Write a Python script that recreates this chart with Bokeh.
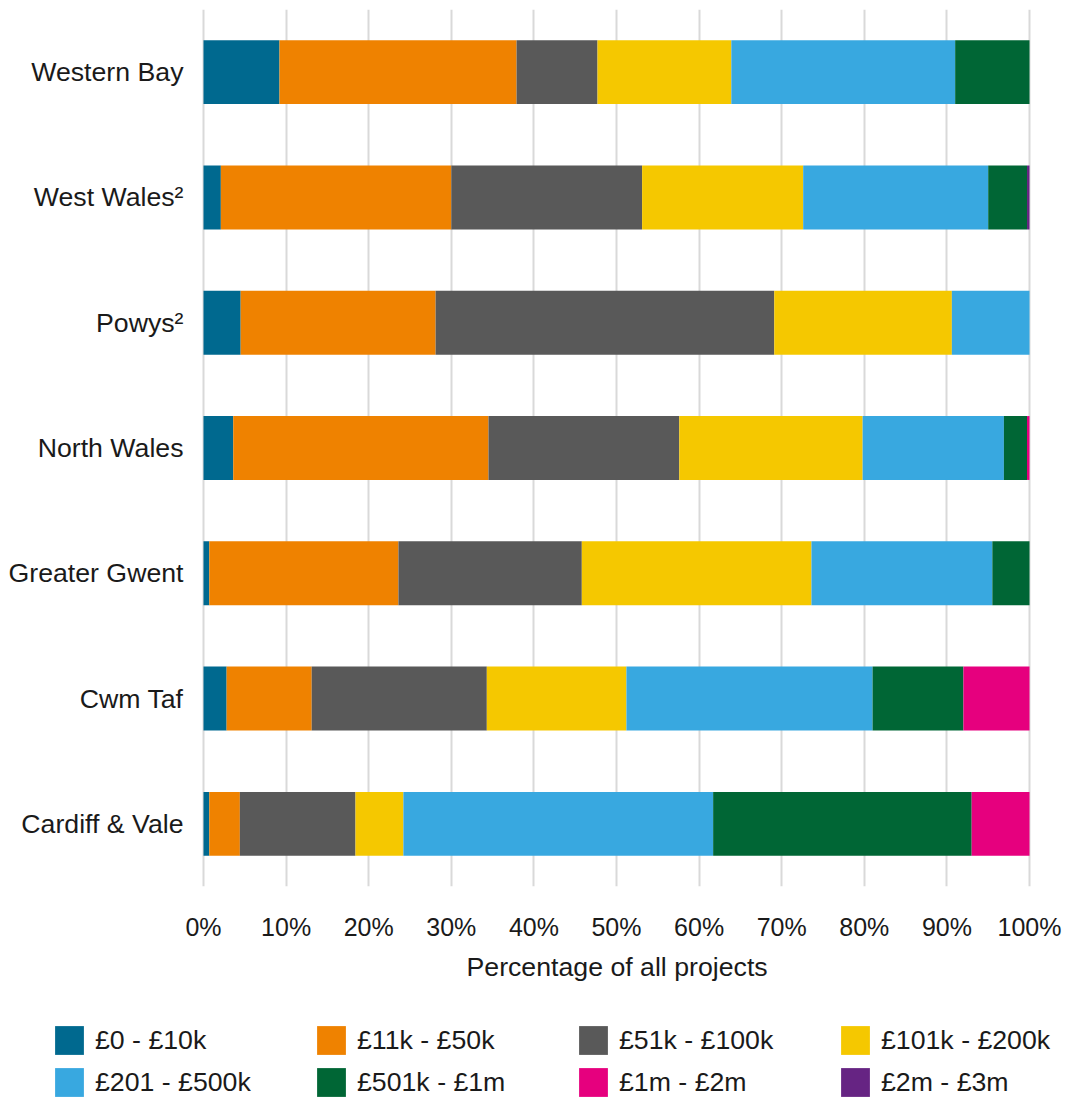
from bokeh.plotting import figure
from bokeh.models import (ColumnDataSource, FactorRange, Range1d, FixedTicker,
                          PrintfTickFormatter, Legend, LegendItem, Title)
from bokeh.core.properties import value
from bokeh.layouts import column
from bokeh.embed import file_html
from bokeh.resources import INLINE

# ---- data ----
regions = ["Western Bay", "West Wales²", "Powys²", "North Wales",
           "Greater Gwent", "Cwm Taf", "Cardiff & Vale"]
bands = ["£0 - £10k", "£11k - £50k", "£51k - £100k", "£101k - £200k",
         "£201 - £500k", "£501k - £1m", "£1m - £2m", "£2m - £3m"]
colors = ["#00698f", "#ef8200", "#595959", "#f5c800",
          "#38a8e0", "#006635", "#e6007e", "#662483"]

band_0_10k    = [9.2, 2.1, 4.5, 3.6, 0.7, 2.8, 0.7]
band_11_50k   = [28.7, 27.9, 23.6, 30.9, 22.9, 10.3, 3.7]
band_51_100k  = [9.8, 23.1, 41.0, 23.1, 22.2, 21.2, 14.0]
band_101_200k = [16.2, 19.5, 21.5, 22.2, 27.8, 16.9, 5.8]
band_201_500k = [27.1, 22.4, 9.4, 17.1, 21.9, 29.8, 37.5]
band_501k_1m  = [9.0, 4.7, 0.0, 2.8, 4.5, 11.0, 31.3]
band_1m_2m    = [0.0, 0.0, 0.0, 0.3, 0.0, 8.0, 7.0]
band_2m_3m    = [0.0, 0.3, 0.0, 0.0, 0.0, 0.0, 0.0]

x_ticks = [0, 10, 20, 30, 40, 50, 60, 70, 80, 90, 100]
x_title = "Percentage of all projects"

series = [band_0_10k, band_11_50k, band_51_100k, band_101_200k,
          band_201_500k, band_501k_1m, band_1m_2m, band_2m_3m]

data = {"region": regions}
for b, s in zip(bands, series):
    data[b] = s
source = ColumnDataSource(data)

FONT = "Liberation Sans"
TXT = "#1a1a1a"

# layout: page width, where 0% and 100% should fall (pixels)
W = 1062
X0_PX, X100_PX = 203, 1029
ppu = (X100_PX - X0_PX) / 100.0
x_start = -X0_PX / ppu
x_end = 100 + (W - X100_PX) / ppu

p = figure(width=W, height=1010,
           y_range=FactorRange(factors=list(reversed(regions))),
           x_range=Range1d(x_start, x_end),
           y_axis_location=None,
           toolbar_location=None, output_backend="svg",
           min_border_left=0, min_border_right=0,
           min_border_top=9, min_border_bottom=124)
p.outline_line_color = None

p.hbar_stack(bands, y="region", height=0.51, source=source,
             color=colors, line_color=None)

# category labels (left of the 0% line)
p.text(x=0, y="region", text="region", source=source,
       x_offset=-20, text_align="right", text_baseline="middle",
       text_font=value(FONT), text_font_size="26.7px", text_color=TXT)

# x axis
p.xaxis.ticker = FixedTicker(ticks=x_ticks)
p.xaxis.formatter = PrintfTickFormatter(format="%d%%")
p.xaxis.major_label_text_font = FONT
p.xaxis.major_label_text_font_size = "25px"
p.xaxis.major_label_text_color = TXT
p.xaxis.major_label_standoff = 26
p.xaxis.major_tick_out = 0
p.xaxis.major_tick_in = 0
p.xaxis.axis_line_color = None
p.xaxis.major_tick_line_color = None
p.xaxis.minor_tick_line_color = None

p.add_layout(Title(text=x_title, align="left", offset=466,
                   text_font=FONT, text_font_size="26.7px",
                   text_font_style="normal", text_color=TXT, standoff=12), "below")

p.xgrid.grid_line_color = "#d9d9d9"
p.xgrid.grid_line_width = 2
p.ygrid.grid_line_color = None

# legend strip
p2 = figure(width=W, height=90,
            x_range=Range1d(0, 1), y_range=Range1d(0, 1),
            x_axis_location=None, y_axis_location=None,
            toolbar_location=None, output_backend="svg", min_border=0)
p2.outline_line_color = None
p2.grid.visible = False
nan = float("nan")
items = []
for b, c in zip(bands, colors):
    r = p2.quad(left=[nan], right=[nan], top=[nan], bottom=[nan],
                fill_color=c, line_color=None)
    items.append(LegendItem(label=b, renderers=[r]))
legend = Legend(items=items,
                orientation="horizontal", ncols=4, location=(51, 0),
                glyph_width=36, glyph_height=36, label_width=212, label_height=36,
                label_standoff=8, spacing=6, padding=0, margin=0,
                border_line_color=None, background_fill_alpha=0,
                label_text_font=FONT, label_text_font_size="26.7px",
                label_text_color=TXT)
p2.add_layout(legend)

layout = column(p, p2, spacing=0)
open("out.html", "w").write(file_html(layout, INLINE))
